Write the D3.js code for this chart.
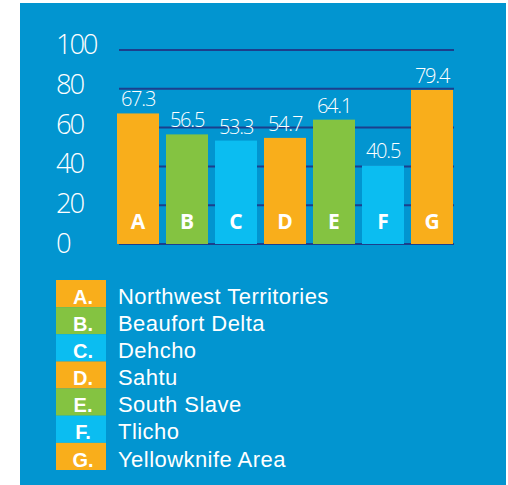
<!DOCTYPE html>
<html><head><meta charset="utf-8">
<script src="https://cdn.jsdelivr.net/npm/d3@7/dist/d3.min.js"></script>
<style>
html,body{margin:0;padding:0;background:#fff;}
svg{display:block;}
</style></head>
<body>
<svg id="chart" width="508" height="485"></svg>
<script>
const letters = ["A","B","C","D","E","F","G"];
const regions = ["Northwest Territories","Beaufort Delta","Dehcho","Sahtu","South Slave","Tlicho","Yellowknife Area"];
const values = [67.3, 56.5, 53.3, 54.7, 64.1, 40.5, 79.4];
const valueLabels = ["67.3","56.5","53.3","54.7","64.1","40.5","79.4"];
const colorKeys = ["orange","green","cyan","orange","green","cyan","orange"];
const yTicks = [0, 20, 40, 60, 80, 100];

const palette = {orange:"#F9AE1B", green:"#84C341", cyan:"#0BBDF1"};
const bg = "#0295D0";
const gridColor = "#1C3F8C";

const svg = d3.select("#chart");
svg.append("rect").attr("x",20).attr("y",3).attr("width",486).attr("height",482).attr("fill",bg);

const x = d3.scaleBand().domain(letters).range([117, 453]).paddingInner(7/49).paddingOuter(0).align(0);
const y = d3.scaleLinear().domain([0,100]).range([244, 50]);
const yLab = d3.scaleLinear().domain([0,100]).range([253, 54]);

// gridlines
svg.append("g").selectAll("line").data(yTicks).join("line")
  .attr("x1",119).attr("x2",454)
  .attr("y1",d=>y(d)).attr("y2",d=>y(d))
  .attr("stroke",gridColor).attr("stroke-width",2);

// y labels
svg.append("g").selectAll("text").data(yTicks).join("text")
  .attr("x",56).attr("y",d=>yLab(d))
  .attr("fill","#fff")
  .attr("font-family","'Open Sans', sans-serif").attr("font-weight",300)
  .attr("font-size",27.5).attr("letter-spacing",-2.3)
  .text(d=>d);

// bars
svg.append("g").selectAll("rect").data(values).join("rect")
  .attr("x",(d,i)=>x(letters[i]))
  .attr("y",d=>y(d))
  .attr("width",x.bandwidth())
  .attr("height",d=>y(0)-y(d))
  .attr("fill",(d,i)=>palette[colorKeys[i]]);

// value labels
svg.append("g").selectAll("text").data(values).join("text")
  .attr("x",(d,i)=>x(letters[i])+x.bandwidth()/2)
  .attr("y",d=>y(d)-7)
  .attr("text-anchor","middle")
  .attr("fill","#fff")
  .attr("font-family","'Open Sans', sans-serif").attr("font-weight",300)
  .attr("font-size",20).attr("letter-spacing",-1.2)
  .text((d,i)=>valueLabels[i]);

// letters in bars
svg.append("g").selectAll("text").data(letters).join("text")
  .attr("x",d=>x(d)+x.bandwidth()/2)
  .attr("y",229)
  .attr("text-anchor","middle")
  .attr("fill","#fff")
  .attr("font-family","'Open Sans', sans-serif").attr("font-weight",700)
  .attr("font-size",21)
  .text(d=>d);

// legend
const ly = d3.scaleBand().domain(letters).range([280, 470]);
const leg = svg.append("g");
leg.selectAll("rect").data(letters).join("rect")
  .attr("x",56).attr("y",d=>ly(d)).attr("width",50).attr("height",ly.bandwidth())
  .attr("fill",(d,i)=>palette[colorKeys[i]]);
leg.selectAll("text.l").data(letters).join("text").attr("class","l")
  .attr("x",83).attr("y",d=>ly(d)+ly.bandwidth()-3.5)
  .attr("text-anchor","middle").attr("fill","#fff")
  .attr("font-family","'Liberation Sans', Arial, sans-serif").attr("font-weight",700)
  .attr("font-size",20)
  .text(d=>d+".");
leg.selectAll("text.n").data(regions).join("text").attr("class","n")
  .attr("x",118).attr("y",(d,i)=>ly(letters[i])+ly.bandwidth()-3.5)
  .attr("fill","#fff")
  .attr("font-family","'Liberation Sans', Arial, sans-serif")
  .attr("font-size",22).attr("letter-spacing",0.45)
  .text(d=>d);
</script>
</body></html>
